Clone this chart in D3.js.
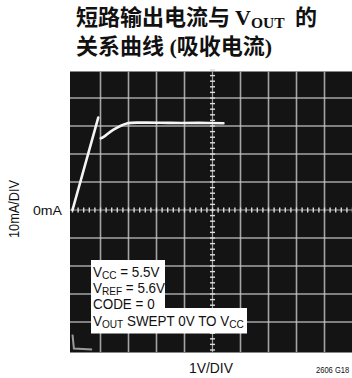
<!DOCTYPE html>
<html>
<head>
<meta charset="utf-8">
<script src="https://cdnjs.cloudflare.com/ajax/libs/d3/7.8.5/d3.min.js"></script>
<style>
  body { margin: 0; background: #fff; }
  .narrow { font-family: "Liberation Sans", Arial, sans-serif; }
  .title { font-family: "Liberation Serif", "Noto Sans CJK SC", serif; font-weight: bold; font-size: 22px; fill: #111; }
</style>
</head>
<body>
<div class="chart"></div>
<script>
// trace: volts (1V/DIV) and milliamps (10mA/DIV, 0mA at centre)
var riseVolts = [0, 0.92];
var riseMilliamps = [0, 33];
var sinkVolts = [1.01, 1.10, 1.45, 1.94, 2.53, 3.5, 4.5, 5.39];
var sinkMilliamps = [25.6, 26.0, 28.6, 30.9, 31.2, 31.1, 31.1, 31.0];
// faint retrace in the lower left corner
var retraceVolts = [0, 0.05, 0.7];
var retraceMilliamps = [-44.5, -49.5, -49.8];

var legendLines = [
  [["V", false], ["CC", true], [" = 5.5V", false]],
  [["V", false], ["REF", true], [" = 5.6V", false]],
  [["CODE = 0", false]],
  [["V", false], ["OUT", true], ["  SWEPT 0V TO V", false], ["CC", true]]
];

var svgWidth = 352, svgHeight = 378;

var svg = d3.select(".chart")
  .append("svg")
  .attr("width", svgWidth)
  .attr("height", svgHeight);

svg.append("rect").attr("width", svgWidth).attr("height", svgHeight).attr("fill", "#fff");

// scales: 10 divisions each way, 28px per division
var xScale = d3.scaleLinear()
  .domain([0, 10])
  .range([72.5, 352.5]);

var yScale = d3.scaleLinear()
  .domain([-50, 50])
  .range([350, 70]);

// scope screen
svg.append("rect")
  .attr("x", 70)
  .attr("y", 71.5)
  .attr("width", 282)
  .attr("height", 281)
  .attr("fill", "#141414");

var gridGroup = svg.append("g").attr("stroke", "#c8c8c8");

gridGroup.selectAll(".vline")
  .data(d3.range(1, 10))
  .enter()
  .append("line")
  .attr("x1", d => xScale(d))
  .attr("x2", d => xScale(d))
  .attr("y1", 71.5)
  .attr("y2", 352)
  .attr("stroke-width", d => d == 5 ? 1.2 : 1.6)
  .attr("stroke-opacity", 0.8);

gridGroup.selectAll(".hline")
  .data(d3.range(-40, 50, 10))
  .enter()
  .append("line")
  .attr("x1", 70)
  .attr("x2", 352)
  .attr("y1", d => yScale(d))
  .attr("y2", d => yScale(d))
  .attr("stroke-width", d => d == 0 ? 1.2 : 1.6)
  .attr("stroke-opacity", 0.8);

// minor ticks on the centre lines, 5 per division
var minorX = d3.range(0, 10.01, 0.2);
var minorY = d3.range(-50, 50.1, 2);

gridGroup.selectAll(".mx")
  .data(minorX)
  .enter()
  .append("line")
  .attr("x1", d => xScale(d))
  .attr("x2", d => xScale(d))
  .attr("y1", yScale(0) - 2.5)
  .attr("y2", yScale(0) + 2.5)
  .attr("stroke", "#ddd")
  .attr("stroke-width", 1.4);

gridGroup.selectAll(".my")
  .data(minorY)
  .enter()
  .append("line")
  .attr("x1", xScale(5) - 2.5)
  .attr("x2", xScale(5) + 2.5)
  .attr("y1", d => yScale(d))
  .attr("y2", d => yScale(d))
  .attr("stroke", "#ddd")
  .attr("stroke-width", 1.4);

// traces
var line = d3.line()
  .x(d => xScale(d[0]))
  .y(d => yScale(d[1]));

var smooth = d3.line()
  .x(d => xScale(d[0]))
  .y(d => yScale(d[1]))
  .curve(d3.curveCatmullRom);

svg.append("path")
  .attr("d", line(d3.zip(retraceVolts, retraceMilliamps)))
  .attr("fill", "none")
  .attr("stroke", "#9a9a9a")
  .attr("stroke-width", 2);

svg.append("path")
  .attr("d", line(d3.zip(riseVolts, riseMilliamps)))
  .attr("fill", "none")
  .attr("stroke", "#f4f4f4")
  .attr("stroke-width", 2.6)
  .attr("stroke-linecap", "round");

svg.append("path")
  .attr("d", smooth(d3.zip(sinkVolts, sinkMilliamps)))
  .attr("fill", "none")
  .attr("stroke", "#f4f4f4")
  .attr("stroke-width", 2.6)
  .attr("stroke-linecap", "round");

// legend box (stepped)
svg.append("path")
  .attr("d", "M91,260 H165 V308 H247 V333.5 H91 Z")
  .attr("fill", "#fff");

var legend = svg.append("g")
  .attr("class", "narrow")
  .attr("font-size", 14)
  .attr("fill", "#111")
  .attr("transform", "translate(93,0) scale(0.96,1)");
var legendY = [277.5, 293, 309.5, 326];

legendLines.forEach(function(parts, i) {
  var t = legend.append("text").attr("x", 0).attr("y", legendY[i]);
  parts.forEach(function(p, j) {
    var s = t.append("tspan").text(p[0]);
    if (p[1]) {
      s.attr("font-size", 10.5).attr("dy", 2);
    } else if (j > 0) {
      s.attr("dy", -2);
    }
  });
});

// title
var title = svg.append("g").attr("class", "title");
var t1 = title.append("text").attr("y", 25);
t1.append("tspan").attr("x", 76).text("短路输出电流与");
t1.append("tspan").attr("x", 235).text("V");
t1.append("tspan").text("OUT").attr("font-size", 15.5).attr("dy", 3);
t1.append("tspan").attr("x", 295).attr("dy", -3).text("的");
title.append("text").attr("x", 76).attr("y", 54).text("关系曲线 (吸收电流)");

// axis labels
var labels = svg.append("g").attr("class", "narrow").attr("fill", "#111");

labels.append("text")
  .attr("transform", "translate(19, 209) rotate(-90)")
  .attr("text-anchor", "middle")
  .attr("font-size", 14)
  .attr("textLength", 58)
  .attr("lengthAdjust", "spacingAndGlyphs")
  .text("10mA/DIV");

labels.append("text")
  .attr("x", 33)
  .attr("y", 215)
  .attr("font-size", 13.5)
  .attr("textLength", 29)
  .attr("lengthAdjust", "spacingAndGlyphs")
  .text("0mA");

labels.append("text")
  .attr("x", 189)
  .attr("y", 373)
  .attr("font-size", 14)
  .attr("textLength", 44)
  .attr("lengthAdjust", "spacingAndGlyphs")
  .text("1V/DIV");

labels.append("text")
  .attr("transform", "translate(316, 373) scale(0.84, 1)")
  .attr("font-size", 9)
  .text("2606 G18");
</script>
</body>
</html>
